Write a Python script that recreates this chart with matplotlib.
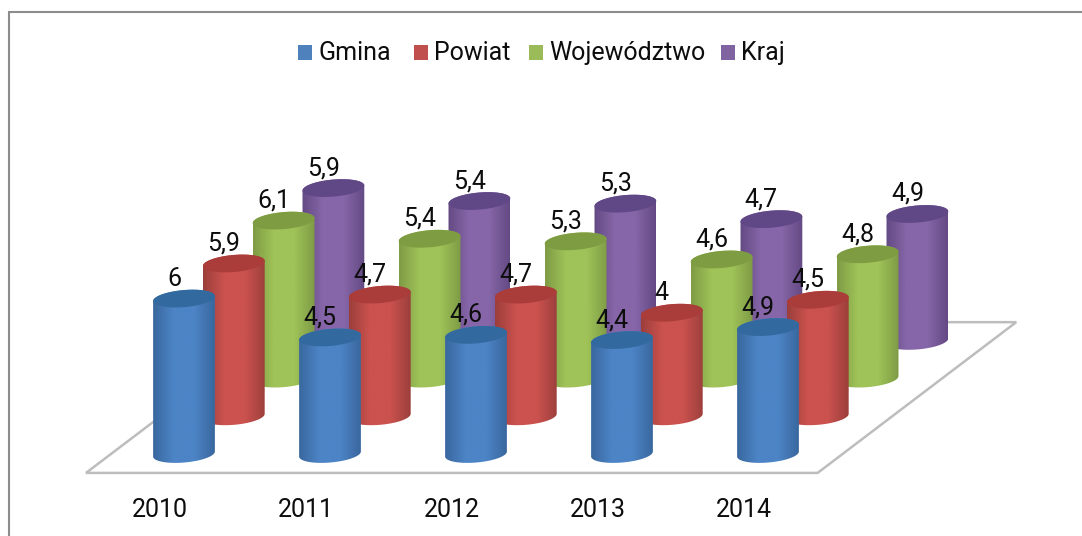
import numpy as np
from matplotlib import pyplot as plt
from matplotlib.colors import LinearSegmentedColormap
from matplotlib.patches import Polygon, Rectangle

years = ["2010", "2011", "2012", "2013", "2014"]
names = ["Gmina", "Powiat", "Województwo", "Kraj"]
gmina = [6, 4.5, 4.6, 4.4, 4.9]
powiat = [5.9, 4.7, 4.7, 4, 4.5]
wojewodztwo = [6.1, 5.4, 5.3, 4.6, 4.8]
kraj = [5.9, 5.4, 5.3, 4.7, 4.9]
series = [gmina, powiat, wojewodztwo, kraj]

legend_colors = ["#4f81bd", "#c0504d", "#9bbb59", "#8064a2"]
edge_colors = ["#3a689f", "#9c3f3c", "#7f9c46", "#644a84"]
mid_colors = ["#4c84c6", "#cb524e", "#9fc358", "#8666a8"]
cap_colors = ["#32699f", "#aa3d39", "#7e9c42", "#604786"]

W, H = 1082, 536
PX_X = 146.0    # pixels per year
PX_Y = 25.9     # pixels per unit of value
X0, Y0 = 184.0, 454.0
STEP_X, STEP_Y = 49.8 / PX_X, 37.7 / PX_Y    # depth step between series
RX, RY = 31.0, 8.5
TILT = np.radians(-5)
FONT = 18

plt.rcParams['font.family'] = ['Roboto', 'DejaVu Sans']
fig = plt.figure(figsize=(W / 100, H / 100), dpi=100)
ax = fig.add_axes([0, 0, 1, 1])
ax.axis("off")


def arc(cx, cy, t):
    # tilted ellipse round (cx, cy), in data units
    ex = RX * np.cos(t)
    ey = RY * np.sin(t)
    dx = ex * np.cos(TILT) - ey * np.sin(TILT)
    dy = ex * np.sin(TILT) + ey * np.cos(TILT)
    return np.column_stack([cx + dx / PX_X, cy - dy / PX_Y])


def drawCylinder(x, base, value, s):
    top = base + value
    order = 6 - s
    body = np.vstack([arc(x, top, np.linspace(np.pi, 2 * np.pi, 40)),
                      arc(x, base, np.linspace(0, np.pi, 40))])
    cmap = LinearSegmentedColormap.from_list("c", [edge_colors[s], mid_colors[s], mid_colors[s], edge_colors[s]])
    shade = np.linspace(0, 1, 64)[None, :]
    img = ax.imshow(shade, cmap=cmap, vmin=0, vmax=1, aspect="auto", interpolation="bilinear", zorder=order,
                    extent=[x - RX / PX_X, x + RX / PX_X, base - 15 / PX_Y, top + 15 / PX_Y])
    patch = Polygon(body, closed=True, facecolor="none", edgecolor="none")
    ax.add_patch(patch)
    img.set_clip_path(patch)
    cap = arc(x, top, np.linspace(0, 2 * np.pi, 80))
    ax.add_patch(Polygon(cap, closed=True, facecolor=cap_colors[s], edgecolor="none", zorder=order + 0.1))


# floor
n = len(years)
floor = [(-0.671, -0.73), (4.34, -0.73), (5.70, 5.09), (0.69, 5.09)]
ax.add_patch(Polygon(floor, closed=True, facecolor="white", edgecolor="#bdbdbd", linewidth=1.8, zorder=1))

for s in range(len(series) - 1, -1, -1):
    for i in range(n):
        drawCylinder(i + s * STEP_X, s * STEP_Y, series[s][i], s)

ax.set_xlim(-X0 / PX_X, (W - X0) / PX_X)
ax.set_ylim(-(H - Y0) / PX_Y, Y0 / PX_Y)

for s in range(len(series)):
    for i in range(n):
        val = str(series[s][i]).replace(".", ",")
        ax.text(i + s * STEP_X - 10 / PX_X, s * STEP_Y + series[s][i] + 13 / PX_Y, val,
                ha="center", va="baseline", fontsize=FONT, color="#0d0d0d", zorder=20)

for i in range(n):
    ax.text(i - 24 / PX_X, -63 / PX_Y, years[i], ha="center", va="baseline", fontsize=FONT, color="#0d0d0d")

# legend and frame, placed in pixels of the picture
px = fig.transFigure
leg_x = [298, 414, 529, 721]
for s in range(len(names)):
    ax.add_patch(Rectangle((leg_x[s] / W, 1 - 60 / H), 14 / W, 15 / H, transform=px,
                           facecolor=legend_colors[s], edgecolor="none"))
    ax.text((leg_x[s] + 20) / W, 1 - 60 / H, names[s], transform=px, ha="left", va="baseline",
            fontsize=FONT, color="#0d0d0d")

ax.add_patch(Rectangle((8.5 / W, -0.05), 1.2, 1 - 12.5 / H + 0.05, transform=px, facecolor="none",
                       edgecolor="#8c8c8c", linewidth=1.5))

plt.savefig("out.png", dpi=100)
